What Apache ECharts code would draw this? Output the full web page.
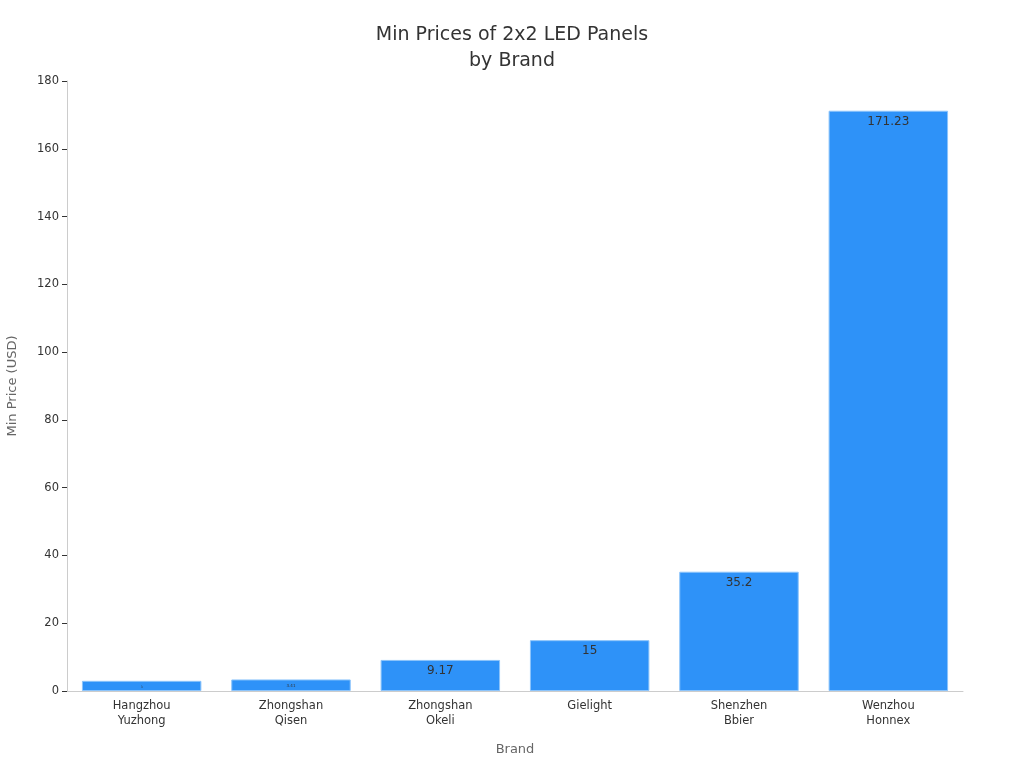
<!DOCTYPE html><html><head><meta charset="utf-8"><script src="https://cdn.jsdelivr.net/npm/echarts@6/dist/echarts.min.js"></script></head><body style="margin:0"><div id="c" style="width:1024px;height:768px"></div><script>
const categories=["Hangzhou\nYuzhong","Zhongshan\nQisen","Zhongshan\nOkeli","Gielight","Shenzhen\nBbier","Wenzhou\nHonnex"];
const values=[3,3.41,9.17,15,35.2,171.23];
const labelSizes=[3,4,12,12,12,12];
const ch=echarts.init(document.getElementById('c'));
ch.setOption({
title:{text:"Min Prices of 2x2 LED Panels\nby Brand",left:'center',top:17,textStyle:{fontFamily:'DejaVu Sans',fontSize:19,fontWeight:'normal',color:'#333',lineHeight:26}},
grid:{left:67,right:61,top:81,bottom:77,containLabel:false,outerBoundsMode:'none'},
xAxis:{type:'category',data:categories,name:'Brand',nameLocation:'middle',nameGap:52,nameTextStyle:{fontFamily:'DejaVu Sans',fontSize:13,color:'#666'},
axisLine:{lineStyle:{color:'#ccc'}},axisTick:{alignWithLabel:true,lineStyle:{color:'#333'}},axisLabel:{fontFamily:'DejaVu Sans',fontSize:11.5,color:'#333',lineHeight:15}},
yAxis:{type:'value',min:0,max:180,interval:20,name:'Min Price (USD)',nameLocation:'middle',nameGap:48,nameTextStyle:{fontFamily:'DejaVu Sans',fontSize:13,color:'#666'},
axisLine:{show:true,lineStyle:{color:'#ccc'}},axisTick:{show:true,lineStyle:{color:'#333'}},splitLine:{show:false},axisLabel:{fontFamily:'DejaVu Sans',fontSize:11.5,color:'#333'}},
series:[{type:'bar',barWidth:'80%',data:values.map((v,i)=>({value:v,label:{fontSize:labelSizes[i]}})),
itemStyle:{color:'#2e92f8',borderColor:'#8cc4fb',borderWidth:1},
label:{show:true,position:'insideTop',color:'#333',fontFamily:'DejaVu Sans'}}]
});
</script></body></html>
